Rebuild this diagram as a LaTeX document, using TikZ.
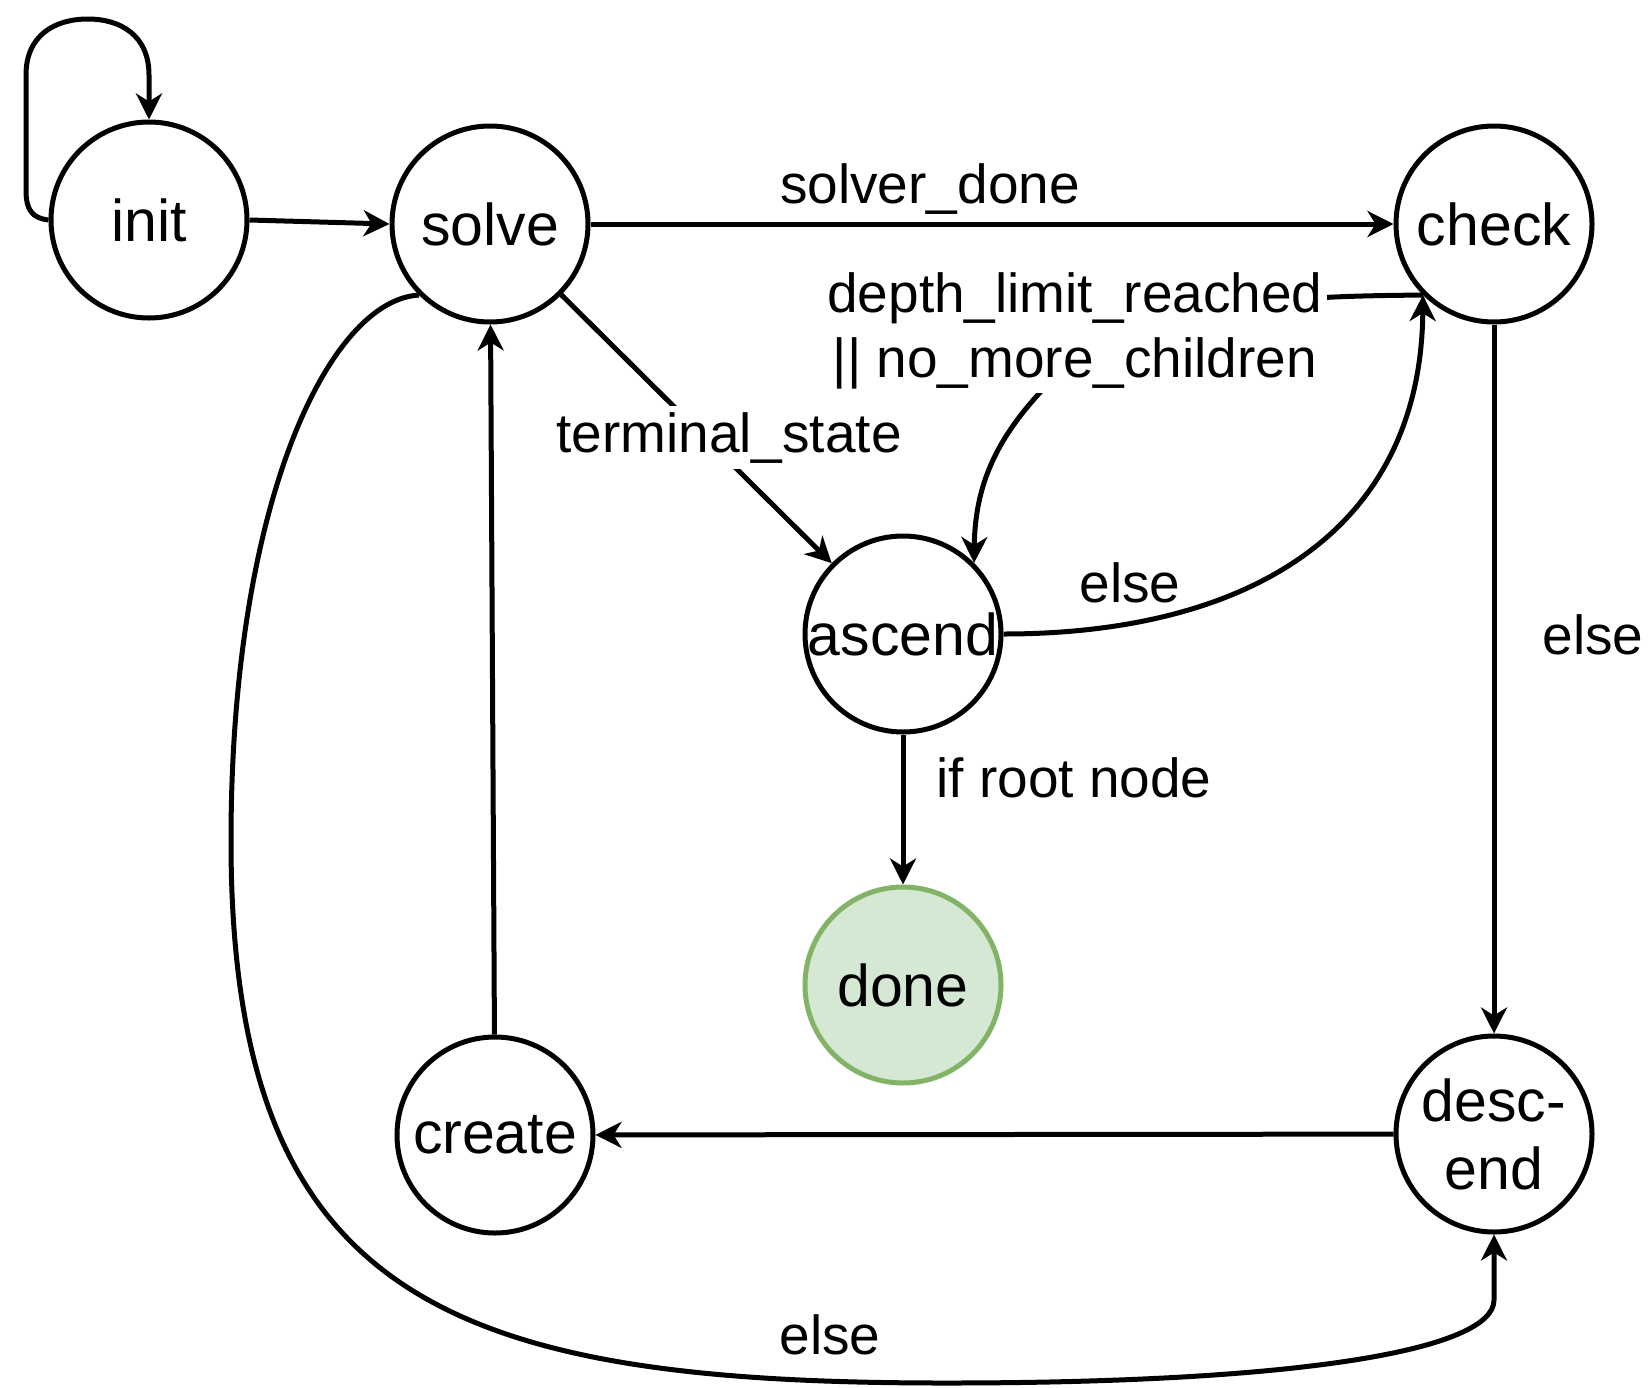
\documentclass[tikz,border=0pt]{standalone}
\usepackage{fontspec}
\setmainfont{Liberation Sans}
\usetikzlibrary{arrows.meta}
\definecolor{donefill}{HTML}{D5E8D4}
\definecolor{donedraw}{HTML}{82B366}
\begin{document}
\begin{tikzpicture}[x=1pt,y=-1pt,
  state/.style={circle,draw,line width=5pt,minimum size=196pt,inner sep=0pt,
    font=\fontsize{59}{68}\selectfont,align=center},
  lbl/.style={font=\fontsize{55}{65}\selectfont,inner sep=4pt},
  hide/.style={fill=white},
  arr/.style={line width=5pt,-{Stealth[length=26pt,width=26pt,inset=8pt]}}]
\useasboundingbox (0,0) rectangle (1648,1387);

\node[state] (init) at (149,220) {init};
\node[state] (solve) at (490,224) {solve};
\node[state] (check) at (1494,224) {check};
\node[state] (ascend) at (903,634) {ascend};
\node[state,fill=donefill,draw=donedraw] (done) at (903,985) {done};
\node[state] (create) at (495,1135) {create};
\node[state] (descend) at (1494,1134) {desc-\\end};

% self loop on init
\draw[arr] (init.west) .. controls (32,218) and (26,210) .. (26,190) -- (26,75)
  .. controls (26,35) and (55,19) .. (88,19)
  .. controls (120,19) and (149,35) .. (149,75) -- (init.north);

\draw[arr] (init.east) -- (solve.west);
\draw[arr] (solve) -- (check);
\draw[arr] (solve) -- (ascend);
\draw[arr] (check.225) .. controls (1300,296) and (1150,300) .. (1060,372)
  .. controls (1000,430) and (975,480) .. (ascend.45);
\draw[arr] (ascend.east) .. controls (1250,634) and (1421,530) .. (check.225);
\draw[arr] (check) -- (descend);
\draw[arr] (ascend) -- (done);
\draw[arr] (descend) -- (create);
\draw[arr] (create) -- (solve);
\draw[arr] (solve.225) .. controls (330,300) and (231,500) .. (231,841)
  .. controls (231,1300) and (450,1383) .. (946,1383)
  .. controls (1300,1383) and (1494,1350) .. (1494,1300) -- (descend.south);

% labels
\node[lbl,anchor=base] (lsd) at (930,203) {solver\_done};
\node[lbl,hide,anchor=base,inner ysep=6pt] (lts) at (729,452) {terminal\_state};
\node[lbl,hide,align=center] (ldl) at (1075,331) {depth\_limit\_reached\\|| no\_more\_children};
\node[lbl,hide,anchor=base] (le1) at (1130,602) {else};
\node[lbl,anchor=base] (le2) at (1593,654) {else};
\node[lbl,anchor=base] (lroot) at (1074,797) {if root node};
\node[lbl,anchor=base] (le3) at (830,1354) {else};
\end{tikzpicture}
\end{document}
